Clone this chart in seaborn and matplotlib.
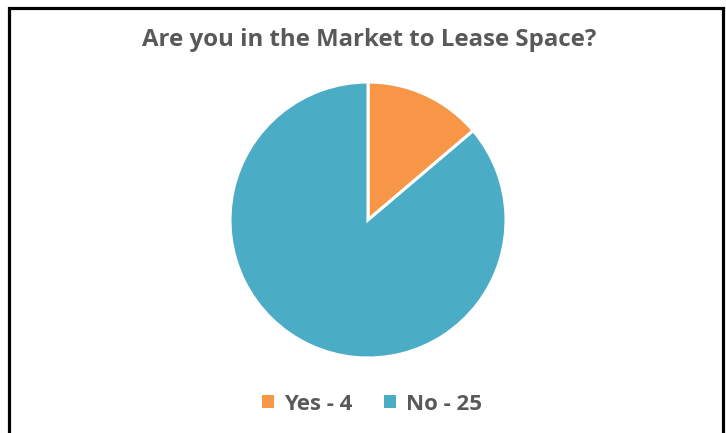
import matplotlib
matplotlib.use("Agg")
import matplotlib.pyplot as plt
import seaborn as sns
from matplotlib.patches import Rectangle

sns.set_theme(style="white")
plt.rcParams['font.family'] = ['Open Sans', 'DejaVu Sans']

categories = ["Yes", "No"]
values = [4, 25]
colors = ["#F79646", "#4BACC6"]
title = "Are you in the Market to Lease Space?"

W, H = 726, 433
fig = plt.figure(figsize=(W / 100, H / 100), dpi=100)
fig.patch.set_facecolor("white")

# border (bottom cut off)
fig.add_artist(Rectangle((8.5 / W, -0.05), (722.5 - 8.5) / W, 1.05 - 8.5 / H,
                         transform=fig.transFigure, fill=False,
                         edgecolor="black", linewidth=2.3))

cx, cy, r = 368, 220, 138
ax = fig.add_axes([(cx - r) / W, (H - cy - r) / H, 2 * r / W, 2 * r / H])
wedges, _ = ax.pie(values, colors=colors, startangle=90, counterclock=False,
                   wedgeprops=dict(edgecolor="white", linewidth=2.2))
ax.set_aspect("equal")
ax.set_xlim(-1, 1)
ax.set_ylim(-1, 1)
ax.axis("off")

fig.text(369 / W, 1 - 40 / H, title, ha="center", va="center",
         fontsize=17.3, fontweight="bold", color="#595959")

labels = [f"{c} - {v}" for c, v in zip(categories, values)]
leg = fig.legend(wedges, labels, loc="center", bbox_to_anchor=(372 / W, 1 - 404 / H),
                 ncol=2, frameon=False, handlelength=0.55, handleheight=0.55,
                 handletextpad=0.45, columnspacing=1.4,
                 prop=dict(size=16, weight="bold"))
for t in leg.get_texts():
    t.set_color("#595959")
for h in leg.legend_handles:
    h.set_edgecolor("none")

fig.savefig("out.png", dpi=100, facecolor="white")
